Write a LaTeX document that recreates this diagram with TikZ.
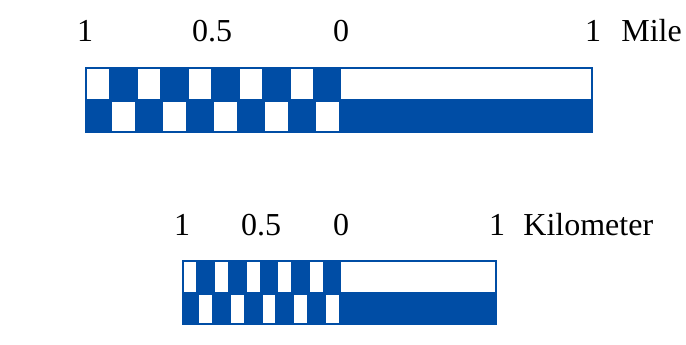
\documentclass[tikz,border=0pt]{standalone}
\usepackage{fontspec}
\setmainfont{Liberation Serif}
\usetikzlibrary{positioning}
\definecolor{scaleblue}{RGB}{0,77,165}

\begin{document}
\begin{tikzpicture}[x=1pt,y=-1pt,
    lab/.style={inner sep=0pt,anchor=base},
    font=\fontsize{32}{38}\selectfont]
  \useasboundingbox (0,0) rectangle (686,345);
  % mile bar
  \fill[scaleblue] (85,67) rectangle (593,133);
  \fill[white] (341,69) rectangle (591,99.5);
  \foreach \i in {0,2,...,8} {
    \fill[white] ({85+25.5*\i+1.5},69) rectangle ({85+25.5*(\i+1)-1.5},99.5);
    \fill[white] ({85+25.5*(\i+1)+1.5},102) rectangle ({85+25.5*(\i+2)-1.5},131);
  }
  \node[lab] (mleft) at (85,42) {1};
  \node[lab] (mhalf) at (212,42) {0.5};
  \node[lab] (mzero) at (341,42) {0};
  \node[lab] (mright) at (593,42) {1};
  \node[lab, right=20pt of mright.base east, anchor=base west] (mile) {Mile};
  % kilometer bar
  \fill[scaleblue] (182,260) rectangle (497,325);
  \fill[white] (341,262) rectangle (495,291.5);
  \foreach \i in {0,2,...,8} {
    \fill[white] ({182+15.8*\i+1.5},262) rectangle ({182+15.8*(\i+1)-1.5},291.5);
    \fill[white] ({182+15.8*(\i+1)+1.5},295) rectangle ({182+15.8*(\i+2)-1.5},323);
  }
  \node[lab] (kleft) at (182,235) {1};
  \node[lab] (khalf) at (261,235) {0.5};
  \node[lab] (kzero) at (341,235) {0};
  \node[lab] (kright) at (497,235) {1};
  \node[lab, right=18pt of kright.base east, anchor=base west] (km) {Kilometer};
\end{tikzpicture}
\end{document}
